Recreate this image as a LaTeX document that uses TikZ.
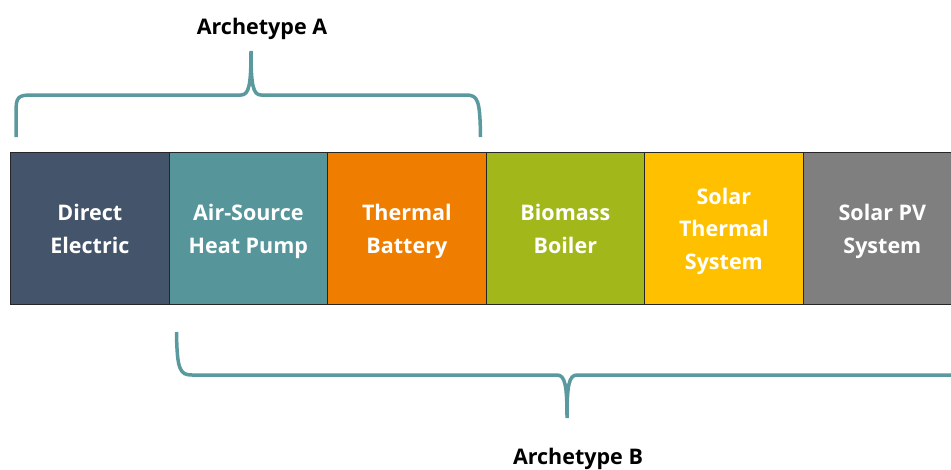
\documentclass[tikz,border=0pt]{standalone}
\usepackage{fontspec}
\setmainfont{Open Sans}
\definecolor{cDE}{HTML}{44546A}
\definecolor{cAS}{HTML}{569599}
\definecolor{cTB}{HTML}{EF7D00}
\definecolor{cBB}{HTML}{A2B81A}
\definecolor{cST}{HTML}{FFC000}
\definecolor{cPV}{HTML}{7F7F7F}
\definecolor{cBr}{HTML}{5A9A9E}
\newcommand{\boxline}[1]{\strut #1}
\tikzset{
  techbox/.style={draw=black!85, line width=1.2pt, minimum width=158.5pt, minimum height=152pt, anchor=north west, inner sep=0pt, text=white, font=\fontsize{21.5}{32.5}\selectfont\bfseries, align=center},
  boxtext/.style={text=white, font=\fontsize{21.5}{32.5}\selectfont\bfseries, align=center, inner sep=0pt},
  brace/.style={draw=cBr, line width=3.5pt},
  archlabel/.style={font=\fontsize{21.5}{24}\selectfont\bfseries, text=black}
}
\begin{document}
\begin{tikzpicture}[x=1pt,y=-1pt]
\useasboundingbox (0,0) rectangle (951,469);
\clip (0,0) rectangle (951,469);
\node[techbox, fill=cDE] (de) at (10,152) {};
\node[techbox, fill=cAS] (as) at (168.5,152) {};
\node[techbox, fill=cTB] (tb) at (327,152) {};
\node[techbox, fill=cBB] (bb) at (485.5,152) {};
\node[techbox, fill=cST] (st) at (644,152) {};
\node[techbox, fill=cPV] (pv) at (802.5,152) {};
\node[boxtext, yshift=-1.8pt] (det) at (de.center) {\boxline{Direct}\\\boxline{Electric}};
\node[boxtext, yshift=-1.8pt] (ast) at (as.center) {\boxline{Air-Source}\\\boxline{Heat Pump}};
\node[boxtext, yshift=-1.8pt] (tbt) at (tb.center) {\boxline{Thermal}\\\boxline{Battery}};
\node[boxtext, yshift=-1.8pt] (bbt) at (bb.center) {\boxline{Biomass}\\\boxline{Boiler}};
\node[boxtext, yshift=-1.8pt] (stt) at (st.center) {\boxline{Solar}\\\boxline{Thermal}\\\boxline{System}};
\node[boxtext, yshift=-1.8pt] (pvt) at (pv.center) {\boxline{Solar PV}\\\boxline{System}};
% brace A
\draw[brace] (16,137) -- (16,112) .. controls (16,97) and (18,95) .. (32,95)
  -- (241,95) .. controls (249,95) and (251,85) .. (251,51)
  .. controls (251,85) and (253,95) .. (261,95)
  -- (466,95) .. controls (478,95) and (480,100) .. (480.5,137);
% brace B
\draw[brace] (176.5,332) .. controls (177,370) and (180,375) .. (192,375)
  -- (557,375) .. controls (565,375) and (567,385) .. (567,418)
  .. controls (567,385) and (569,375) .. (577,375)
  -- (960,375);
\node[archlabel] (la) at (262,29) {Archetype A};
\node[archlabel] (lb) at (578,459) {Archetype B};
\end{tikzpicture}
\end{document}
